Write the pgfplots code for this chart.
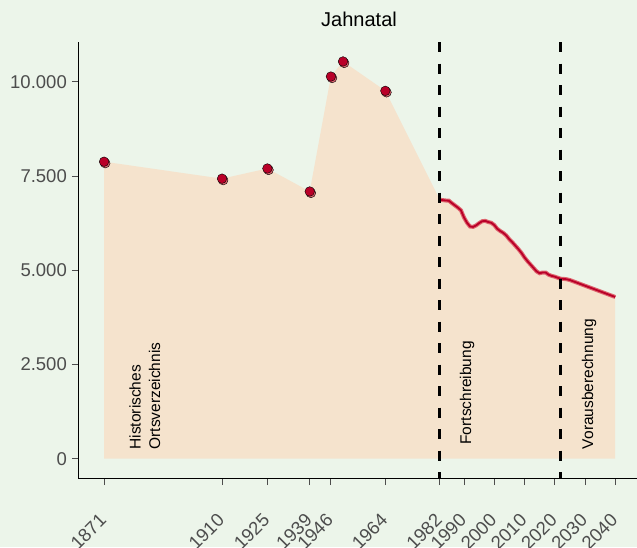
\documentclass[border=0pt]{standalone}
\usepackage{pgfplots}
\pgfplotsset{compat=1.18}
\usepackage{pgfplotstable}
\usepackage{fontspec}
\setmainfont{Liberation Sans}
\definecolor{bg}{RGB}{236,245,234}
\definecolor{areafill}{RGB}{245,227,205}
\definecolor{darkred}{RGB}{185,0,40}
\definecolor{lightred}{RGB}{222,100,110}
\definecolor{ticklab}{RGB}{77,77,77}

\pgfplotstableread{
year pop
1871 7880
1910 7430
1925 7700
1939 7090
1946 10140
1950 10540
1964 9760
}\hist

\pgfplotstableread{
year pop
1982 6870
1983 6860
1984 6850
1985 6845
1986 6780
1987 6720
1988 6660
1989 6590
1990 6400
1991 6260
1992 6160
1993 6150
1994 6190
1995 6250
1996 6300
1997 6310
1998 6280
1999 6260
2000 6200
2001 6100
2002 6040
2003 5990
2004 5920
2005 5820
2006 5740
2007 5650
2008 5560
2009 5460
2010 5340
2011 5240
2012 5150
2013 5060
2014 4970
2015 4920
2016 4940
2017 4940
2018 4880
2019 4850
2020 4830
2021 4800
2022 4775
2023 4770
2024 4760
2025 4740
2026 4710
2027 4680
2028 4650
2029 4620
2030 4590
2031 4560
2032 4530
2033 4500
2034 4470
2035 4440
2036 4410
2037 4380
2038 4350
2039 4320
2040 4290
}\proj

\pgfplotstableread{
year pop
1871 7880
1910 7430
1925 7700
1939 7090
1946 10140
1950 10540
1964 9760
1982 6870
1983 6860
1984 6850
1985 6845
1986 6780
1987 6720
1988 6660
1989 6590
1990 6400
1991 6260
1992 6160
1993 6150
1994 6190
1995 6250
1996 6300
1997 6310
1998 6280
1999 6260
2000 6200
2001 6100
2002 6040
2003 5990
2004 5920
2005 5820
2006 5740
2007 5650
2008 5560
2009 5460
2010 5340
2011 5240
2012 5150
2013 5060
2014 4970
2015 4920
2016 4940
2017 4940
2018 4880
2019 4850
2020 4830
2021 4800
2022 4775
2023 4770
2024 4760
2025 4740
2026 4710
2027 4680
2028 4650
2029 4620
2030 4590
2031 4560
2032 4530
2033 4500
2034 4470
2035 4440
2036 4410
2037 4380
2038 4350
2039 4320
2040 4290
}\area

\begin{document}
\begin{tikzpicture}
\fill[bg] (-78.5pt,-68.5pt) rectangle (558.5pt,478.5pt);
\useasboundingbox (-78.5pt,-68.5pt) rectangle (558.5pt,478.5pt);
\begin{axis}[
  at={(0,0)}, anchor=south west,
  scale only axis, width=558.5pt, height=436.5pt,
  xmin=1862.55, xmax=2047.2, ymin=-526, ymax=11056,
  axis x line*=bottom, axis y line*=left,
  axis line style={black, line width=0.9pt},
  tick align=outside, major tick length=6.5pt,
  tick style={ticklab, line width=0.9pt},
  scaled y ticks=false, scaled x ticks=false,
  xtick={1871,1910,1925,1939,1946,1964,1982,1990,2000,2010,2020,2030,2040},
  xticklabels={1871,1910,1925,1939,1946,1964,1982,1990,2000,2010,2020,2030,2040},
  ytick={0,2500,5000,7500,10000},
  yticklabels={0,2.500,5.000,7.500,10.000},
  ticklabel style={font=\fontsize{18.5}{22}\selectfont, text=ticklab},
  xticklabel style={yshift=-32pt, xshift=-1pt, rotate=45, anchor=east, inner sep=0pt},
  yticklabel style={inner sep=0pt, xshift=-5pt},
  clip=false,
]
\addplot[fill=areafill, draw=none] table[x=year, y=pop] {\area} \closedcycle;
\addplot[lightred, line width=4pt] table[x=year, y=pop] {\proj};
\addplot[darkred, line width=1.8pt] table[x=year, y=pop] {\proj};
\addplot[only marks, mark=*, mark size=4.8pt, mark options={fill=lightred, draw=none, xshift=1.2pt, yshift=-1.5pt}] table[x=year, y=pop] {\hist};
\addplot[only marks, mark=*, mark size=4.8pt, mark options={fill=darkred, draw=none}] table[x=year, y=pop] {\hist};
\addplot[black, line width=2.6pt, dash pattern=on 10pt off 11.5pt] coordinates {(1982,11056) (1982,-526)};
\addplot[black, line width=2.6pt, dash pattern=on 10pt off 11.5pt] coordinates {(2022,11056) (2022,-526)};
\node[rotate=90, anchor=west, inner sep=0pt, align=left, font=\fontsize{15.5}{19.5}\selectfont] at (axis cs:1884.5,240) {Historisches\\Ortsverzeichnis};
\node[rotate=90, anchor=west, inner sep=0pt, font=\fontsize{15.5}{19.5}\selectfont] at (axis cs:1991,370) {Fortschreibung};
\node[rotate=90, anchor=west, inner sep=0pt, font=\fontsize{15.5}{19.5}\selectfont] at (axis cs:2031.4,250) {Vorausberechnung};
\node[anchor=base, yshift=15.3pt, font=\fontsize{20}{24}\selectfont] at (axis cs:1955.3,11056) {Jahnatal};
\end{axis}
\end{tikzpicture}
\end{document}
